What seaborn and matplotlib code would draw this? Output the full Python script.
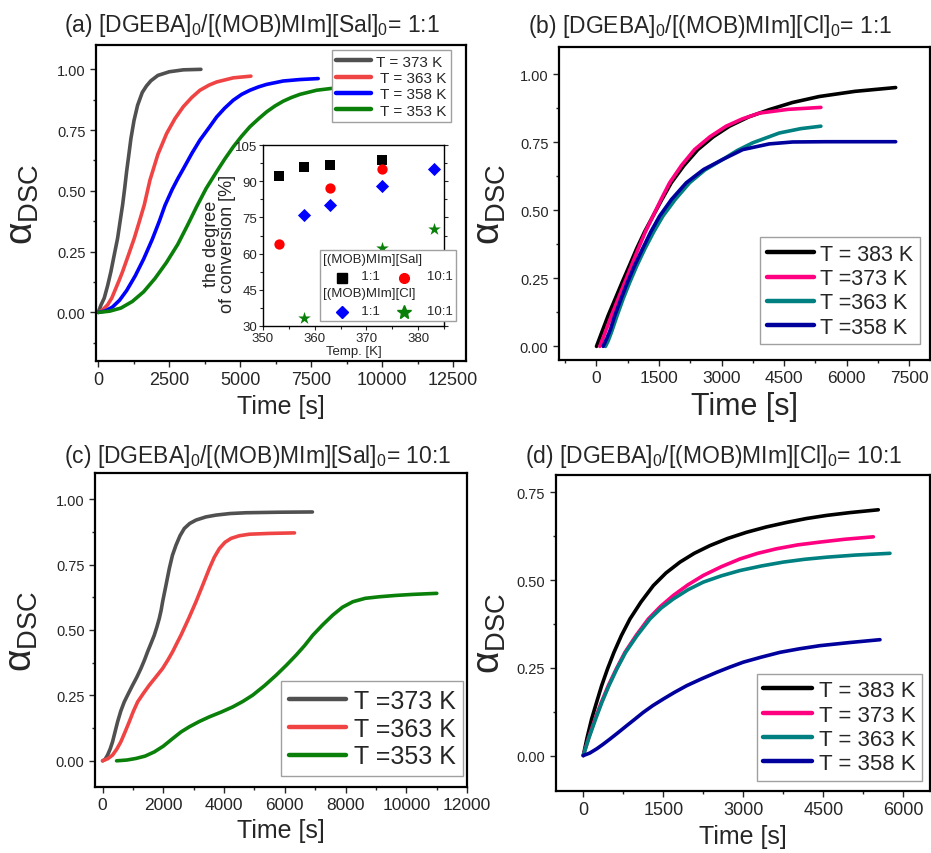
import numpy as np
import pandas as pd
import matplotlib.pyplot as plt
import seaborn as sns
from matplotlib.lines import Line2D
from matplotlib.ticker import MultipleLocator
from matplotlib.offsetbox import AnchoredOffsetbox, DrawingArea, HPacker, TextArea, VPacker

sns.set_style('ticks')
plt.rcParams['font.family'] = ['Liberation Sans', 'DejaVu Sans']
plt.rcParams['mathtext.fontset'] = 'custom'
plt.rcParams['mathtext.rm'] = 'Liberation Sans'
plt.rcParams['mathtext.it'] = 'Liberation Sans:italic'
plt.rcParams['mathtext.bf'] = 'Liberation Sans:bold'

# ---- (a) Sal 1:1, curves (time [s], alpha)
a_373_t = [0, 95, 211, 330, 446, 560, 681, 770, 857, 930, 998, 1075, 1150, 1260, 1385,
           1550, 1700, 1854, 2100, 2500, 3000, 3615]
a_373_y = [0, 0.03, 0.059, 0.11, 0.168, 0.235, 0.305, 0.375, 0.442, 0.51, 0.579, 0.647,
           0.715, 0.79, 0.852, 0.905, 0.932, 0.953, 0.975, 0.99, 0.998, 1.0]
a_363_t = [0, 150, 329, 480, 622, 740, 857, 1060, 1268, 1450, 1620, 1820, 2100, 2408,
           2700, 2993, 3300, 3581, 3900, 4169, 4754, 5376]
a_363_y = [0, 0.01, 0.031, 0.06, 0.10, 0.133, 0.168, 0.235, 0.305, 0.375, 0.442, 0.544,
           0.65, 0.736, 0.797, 0.846, 0.885, 0.914, 0.935, 0.948, 0.965, 0.972]
a_358_t = [0, 250, 500, 750, 1000, 1300, 1600, 1900, 2150, 2349, 2600, 2800, 2993, 3300,
           3581, 3900, 4169, 4450, 4754, 5050, 5342, 5650, 5929, 6514, 7100, 7746]
a_358_y = [0, 0.006, 0.022, 0.05, 0.09, 0.15, 0.22, 0.30, 0.375, 0.44, 0.505, 0.55, 0.59,
           0.655, 0.709, 0.76, 0.804, 0.84, 0.873, 0.897, 0.914, 0.928, 0.938, 0.952,
           0.958, 0.962]
a_353_t = [0, 400, 800, 1200, 1600, 2000, 2400, 2800, 3150, 3465, 3800, 4169, 4450, 4754,
           5050, 5342, 5650, 5929, 6220, 6514, 6800, 7102, 7690, 8394, 9500, 11500]
a_353_y = [0, 0.005, 0.018, 0.045, 0.085, 0.14, 0.205, 0.28, 0.36, 0.435, 0.51, 0.579,
           0.63, 0.681, 0.725, 0.764, 0.797, 0.825, 0.849, 0.869, 0.884, 0.897, 0.914,
           0.924, 0.935, 0.945]

# inset: degree of conversion [%] vs temperature [K]
sal11_T = [353, 358, 363, 373]
sal11_c = [92.3, 96, 96.7, 98.8]
sal101_T = [353, 363, 373]
sal101_c = [64, 87, 95]
cl11_T = [358, 363, 373, 383]
cl11_c = [76, 80, 88, 95]
cl101_T = [358, 363, 373, 383]
cl101_c = [33.5, 58.4, 62.3, 70.3]

# ---- (b) Cl 1:1
b_383_t = [0, 140, 279, 450, 614, 790, 957, 1150, 1356, 1570, 1794, 2100, 2432, 2800,
           3190, 3650, 4147, 4700, 5343, 6200, 7177]
b_383_y = [0, 0.057, 0.113, 0.175, 0.235, 0.297, 0.357, 0.42, 0.479, 0.54, 0.601, 0.665,
           0.723, 0.77, 0.809, 0.843, 0.870, 0.896, 0.918, 0.937, 0.951]
b_373_t = [80, 220, 359, 520, 678, 840, 997, 1170, 1356, 1550, 1754, 2040, 2352, 2720,
           3110, 3500, 3907, 4600, 5383]
b_373_y = [0, 0.056, 0.113, 0.175, 0.235, 0.297, 0.357, 0.42, 0.479, 0.54, 0.601, 0.665,
           0.723, 0.77, 0.809, 0.836, 0.857, 0.871, 0.878]
b_363_t = [215, 280, 359, 494, 640, 797, 970, 1156, 1370, 1595, 1890, 2233, 2600, 3030,
           3380, 3748, 4386, 4900, 5383]
b_363_y = [0, 0.02, 0.052, 0.113, 0.175, 0.235, 0.297, 0.357, 0.42, 0.479, 0.54, 0.601,
           0.648, 0.687, 0.72, 0.748, 0.784, 0.8, 0.809]
b_358_t = [160, 250, 330, 439, 590, 742, 915, 1100, 1300, 1515, 1800, 2153, 2570, 3030,
           3509, 4147, 4705, 5500, 7177]
b_358_y = [0, 0.03, 0.06, 0.113, 0.175, 0.235, 0.297, 0.357, 0.42, 0.479, 0.54, 0.601,
           0.65, 0.687, 0.723, 0.744, 0.751, 0.752, 0.752]

# ---- (c) Sal 10:1
c_373_t = [0, 80, 165, 250, 330, 410, 495, 600, 714, 850, 989, 1130, 1264, 1380, 1484,
           1600, 1703, 1790, 1868, 1930, 1978, 2090, 2198, 2300, 2418, 2550, 2692, 2870,
           3077, 3400, 3736, 4200, 4725, 5800, 6910]
c_373_y = [0, 0.005, 0.022, 0.045, 0.073, 0.11, 0.149, 0.19, 0.225, 0.257, 0.289, 0.32,
           0.353, 0.385, 0.417, 0.45, 0.48, 0.512, 0.544, 0.576, 0.608, 0.672, 0.735,
           0.785, 0.824, 0.86, 0.888, 0.907, 0.92, 0.932, 0.939, 0.945, 0.948, 0.95, 0.951]
c_363_t = [0, 170, 330, 470, 604, 740, 879, 1010, 1154, 1340, 1538, 1760, 1978, 2150,
           2308, 2450, 2582, 2840, 3077, 3300, 3516, 3680, 3846, 4030, 4231, 4500, 4835,
           5500, 6320]
c_363_y = [0, 0.008, 0.022, 0.045, 0.073, 0.11, 0.149, 0.188, 0.225, 0.257, 0.289, 0.321,
           0.353, 0.385, 0.417, 0.45, 0.48, 0.545, 0.608, 0.672, 0.735, 0.778, 0.811,
           0.835, 0.850, 0.86, 0.866, 0.869, 0.871]
c_353_t = [462, 800, 1099, 1400, 1703, 2000, 2308, 2580, 2857, 3180, 3516, 3900, 4286,
           4620, 4945, 5330, 5714, 6050, 6374, 6650, 6923, 7250, 7582, 7900, 8242, 8650,
           9121, 9650, 10220, 11005]
c_353_y = [0, 0.003, 0.009, 0.018, 0.034, 0.056, 0.085, 0.11, 0.13, 0.15, 0.168, 0.186,
           0.206, 0.227, 0.251, 0.287, 0.327, 0.365, 0.404, 0.44, 0.48, 0.52, 0.557, 0.587,
           0.608, 0.621, 0.627, 0.632, 0.636, 0.640]

# ---- (d) Cl 10:1
d_383_t = [0, 70, 156, 250, 344, 455, 575, 715, 875, 1080, 1313, 1550, 1813, 2080, 2375,
           2700, 3063, 3430, 3813, 4180, 4563, 5000, 5531]
d_383_y = [0, 0.05, 0.104, 0.152, 0.199, 0.247, 0.294, 0.342, 0.389, 0.437, 0.484, 0.52,
           0.551, 0.576, 0.598, 0.618, 0.636, 0.651, 0.664, 0.675, 0.684, 0.692, 0.700]
d_373_t = [0, 100, 219, 340, 469, 620, 781, 990, 1219, 1450, 1688, 1960, 2250, 2590,
           2938, 3270, 3625, 4020, 4438, 4900, 5438]
d_373_y = [0, 0.05, 0.104, 0.152, 0.199, 0.247, 0.294, 0.342, 0.389, 0.425, 0.456, 0.486,
           0.513, 0.538, 0.560, 0.576, 0.589, 0.6, 0.608, 0.616, 0.623]
d_363_t = [0, 105, 231, 350, 481, 630, 794, 1010, 1250, 1460, 1688, 1960, 2250, 2590,
           2938, 3340, 3750, 4150, 4563, 5100, 5750]
d_363_y = [0, 0.05, 0.104, 0.152, 0.199, 0.247, 0.294, 0.342, 0.389, 0.42, 0.446, 0.472,
           0.494, 0.512, 0.527, 0.54, 0.551, 0.559, 0.565, 0.571, 0.576]
d_358_t = [0, 120, 250, 370, 500, 650, 813, 970, 1125, 1300, 1500, 1710, 1938, 2210,
           2500, 2750, 3000, 3330, 3688, 4050, 4438, 5000, 5563]
d_358_y = [0, 0.007, 0.019, 0.032, 0.047, 0.065, 0.085, 0.104, 0.123, 0.142, 0.161, 0.18,
           0.199, 0.218, 0.237, 0.252, 0.266, 0.28, 0.294, 0.304, 0.313, 0.322, 0.330]

GRAY, RED, BLUE, GREEN = '#505050', '#F04444', '#0000FF', '#0A800A'
BLACK, PINK, TEAL, NAVY = '#000000', '#FF0080', '#008080', '#00009C'

fig = plt.figure(figsize=(9.31, 8.54), dpi=100)
ax_a = fig.add_axes([0.1031, 0.5761, 0.3974, 0.3700])
ax_b = fig.add_axes([0.6004, 0.5773, 0.3985, 0.3665])
ax_c = fig.add_axes([0.1020, 0.0773, 0.3996, 0.3677])
ax_d = fig.add_axes([0.5969, 0.0730, 0.4020, 0.3700])


def curves(ax, series):
    for t, y, col, lab in series:
        sns.lineplot(x=t, y=y, ax=ax, color=col, lw=2.6, label=lab,
                     estimator=None, sort=False, solid_joinstyle='round')


def frame(ax, xlim, ylim, xmaj, xmin, ymaj, ymin, xfs, xlab_fs, ylab_x):
    ax.set_xlim(*xlim)
    ax.set_ylim(*ylim)
    ax.xaxis.set_major_locator(MultipleLocator(xmaj))
    ax.xaxis.set_minor_locator(MultipleLocator(xmin))
    ax.yaxis.set_major_locator(MultipleLocator(ymaj))
    ax.yaxis.set_minor_locator(MultipleLocator(ymin))
    ax.yaxis.set_major_formatter(plt.FormatStrFormatter('%.2f'))
    ax.tick_params(which='major', direction='out', length=4, width=1, labelsize=10.5)
    ax.tick_params(axis='x', which='major', labelsize=xfs)
    ax.tick_params(which='minor', direction='out', length=2.5, width=1)
    for sp in ax.spines.values():
        sp.set_visible(True)
        sp.set_linewidth(1.6)
        sp.set_color('black')
    ax.set_xlabel('Time [s]', fontsize=xlab_fs)
    ax.set_ylabel(r'$\mathrm{\alpha}_{\mathrm{DSC}}$', fontsize=28)
    ax.yaxis.set_label_coords(ylab_x, 0.5)


def legend(ax, loc, anchor, fs, hl):
    leg = ax.legend(loc=loc, bbox_to_anchor=anchor, borderaxespad=0, fontsize=fs,
                    handlelength=hl, handletextpad=0.3, labelspacing=0.15,
                    frameon=True, fancybox=False, framealpha=1, borderpad=0.3)
    leg.get_frame().set_edgecolor('#A0A0A0')
    leg.get_frame().set_linewidth(1)
    for h in leg.get_lines():
        h.set_linewidth(3.2)


# (a)
curves(ax_a, [(a_373_t, a_373_y, GRAY, 'T = 373 K'),
              (a_363_t, a_363_y, RED, ' T = 363 K'),
              (a_358_t, a_358_y, BLUE, ' T = 358 K'),
              (a_353_t, a_353_y, GREEN, ' T = 353 K')])
frame(ax_a, (-80, 12950), (-0.2, 1.1), 2500, 1250, 0.25, 0.125, 13, 18, -0.149)
legend(ax_a, 'upper right', (0.959, 0.984), 11, 2.3)

# (b)
curves(ax_b, [(b_383_t, b_383_y, BLACK, 'T = 383 K'),
              (b_373_t, b_373_y, PINK, 'T =373 K'),
              (b_363_t, b_363_y, TEAL, 'T =363 K'),
              (b_358_t, b_358_y, NAVY, 'T =358 K')])
frame(ax_b, (-900, 8000), (-0.05, 1.1), 1500, 750, 0.25, 0.125, 12.5, 22, -0.137)
legend(ax_b, 'lower right', (0.973, 0.051), 15.5, 2.2)

# (c)
curves(ax_c, [(c_373_t, c_373_y, GRAY, 'T =373 K'),
              (c_363_t, c_363_y, RED, 'T =363 K'),
              (c_353_t, c_353_y, GREEN, 'T =353 K')])
frame(ax_c, (-250, 12000), (-0.1, 1.1), 2000, 1000, 0.25, 0.125, 12.5, 18, -0.148)
legend(ax_c, 'lower right', (0.989, 0.035), 18, 2.3)

# (d)
curves(ax_d, [(d_383_t, d_383_y, BLACK, 'T = 383 K'),
              (d_373_t, d_373_y, PINK, 'T = 373 K'),
              (d_363_t, d_363_y, TEAL, 'T = 363 K'),
              (d_358_t, d_358_y, NAVY, 'T = 358 K')])
frame(ax_d, (-517, 6500), (-0.1, 0.8), 1500, 750, 0.25, 0.125, 13, 18, -0.128)
legend(ax_d, 'lower right', (0.979, 0.031), 16, 2.2)

# titles
sub0 = r'$_{\mathrm{0}}$'
fig.text(252 / 931, 0.962, '(a) [DGEBA]' + sub0 + '/[(MOB)MIm][Sal]' + sub0 + '= 1:1',
         ha='center', va='baseline', fontsize=16.5)
fig.text(710 / 931, 0.961, '(b) [DGEBA]' + sub0 + '/[(MOB)MIm][Cl]' + sub0 + '= 1:1',
         ha='center', va='baseline', fontsize=16.5)
fig.text(258 / 931, 0.458, '(c) [DGEBA]' + sub0 + '/[(MOB)MIm][Sal]' + sub0 + '= 10:1',
         ha='center', va='baseline', fontsize=16.5)
fig.text(713 / 931, 0.4575, '(d) [DGEBA]' + sub0 + '/[(MOB)MIm][Cl]' + sub0 + '= 10:1',
         ha='center', va='baseline', fontsize=16.5)

# inset in (a)
ax_in = fig.add_axes([0.2825, 0.6171, 0.1944, 0.2119])
ax_in.set_facecolor('white')
sns.scatterplot(x=sal11_T, y=sal11_c, ax=ax_in, marker='s', color='black', s=48, linewidth=0)
sns.scatterplot(x=sal101_T, y=sal101_c, ax=ax_in, marker='o', color='#FF0000', s=55, linewidth=0)
sns.scatterplot(x=cl11_T, y=cl11_c, ax=ax_in, marker='D', color='#0000FF', s=45, linewidth=0)
sns.scatterplot(x=cl101_T, y=cl101_c, ax=ax_in, marker='*', color='#0A800A', s=90, linewidth=0)
ax_in.set_xlim(350, 385)
ax_in.set_ylim(30, 105)
ax_in.xaxis.set_major_locator(MultipleLocator(10))
ax_in.xaxis.set_minor_locator(MultipleLocator(5))
ax_in.yaxis.set_major_locator(MultipleLocator(15))
ax_in.yaxis.set_minor_locator(MultipleLocator(7.5))
ax_in.tick_params(which='major', direction='out', length=3, width=0.8, labelsize=9.5, pad=1)
ax_in.tick_params(which='minor', direction='out', length=2, width=0.8)
ax_in.tick_params(which='both', right=True)
for sp in ax_in.spines.values():
    sp.set_visible(True)
    sp.set_linewidth(1)
    sp.set_color('black')
ax_in.set_xlabel('Temp. [K]', fontsize=9.5, labelpad=1)
ax_in.set_ylabel('the degree\nof conversion [%]', fontsize=13, linespacing=0.95)
ax_in.yaxis.set_label_coords(-0.15, 0.46)


def mk(marker, color, size, w):
    da = DrawingArea(w, 10, 0, 0)
    da.add_artist(Line2D([w - 6], [4], marker=marker, color=color,
                         markersize=size, linestyle='none'))
    return da


tp = dict(fontsize=9.5)
row1 = HPacker(children=[mk('s', 'black', 6.5, 20), TextArea('  1:1', textprops=tp),
                         mk('o', '#FF0000', 7, 22), TextArea('   10:1', textprops=tp)],
               sep=2, pad=0, align='center')
row2 = HPacker(children=[mk('D', '#0000FF', 6, 20), TextArea('  1:1', textprops=tp),
                         mk('*', '#0A800A', 10, 22), TextArea('   10:1', textprops=tp)],
               sep=2, pad=0, align='center')
box = VPacker(children=[TextArea('[(MOB)MIm][Sal]', textprops=tp), row1,
                        TextArea('[(MOB)MIm][Cl]', textprops=tp), row2],
              sep=3, pad=0, align='left')
anch = AnchoredOffsetbox(loc='lower right', child=box, pad=0.25, borderpad=0,
                         frameon=True, bbox_to_anchor=(1.066, 0.028),
                         bbox_transform=ax_in.transAxes)
anch.patch.set_edgecolor('#A0A0A0')
anch.patch.set_linewidth(1)
ax_in.add_artist(anch)

fig.savefig('out.png', dpi=100)
